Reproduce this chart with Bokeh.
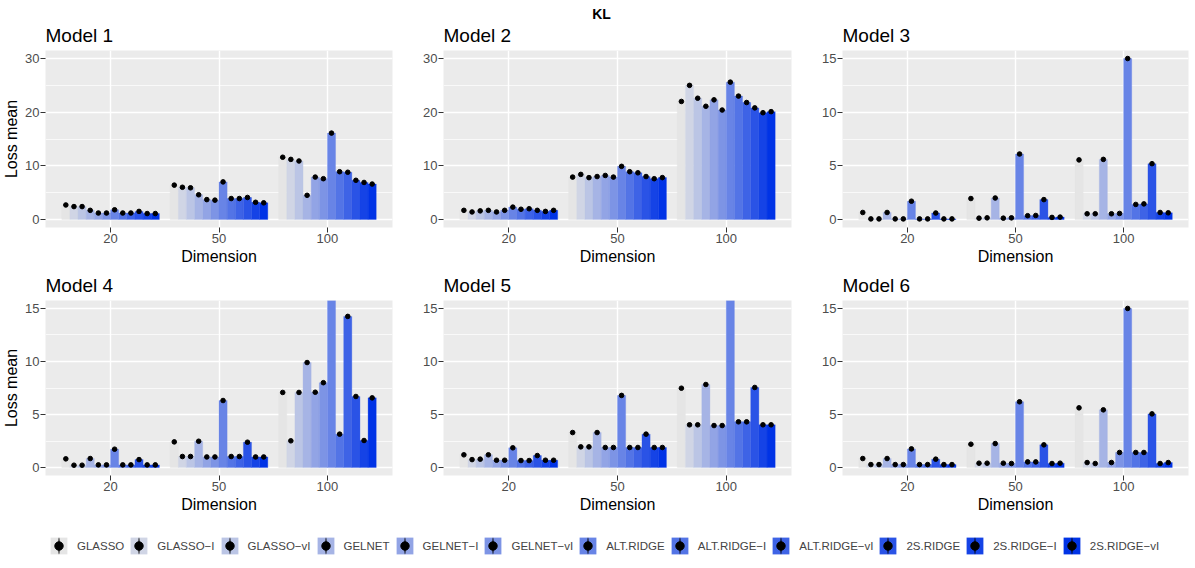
import numpy as np
from bokeh.plotting import figure
from bokeh.models import (FactorRange, Range1d, SingleIntervalTicker, ColumnDataSource,
                          Label, Legend, LegendItem)
from bokeh.transform import dodge
from bokeh.layouts import column, row
from bokeh.embed import file_html
from bokeh.resources import INLINE

# ---------------- data ----------------
methods = ["GLASSO", "GLASSO\u2212I", "GLASSO\u2212vI", "GELNET", "GELNET\u2212I", "GELNET\u2212vI",
           "ALT.RIDGE", "ALT.RIDGE\u2212I", "ALT.RIDGE\u2212vI", "2S.RIDGE", "2S.RIDGE\u2212I", "2S.RIDGE\u2212vI"]
dims = ["20", "50", "100"]
model_titles = ["Model 1", "Model 2", "Model 3", "Model 4", "Model 5", "Model 6"]

m1_20 = [2.7, 2.4, 2.4, 1.7, 1.2, 1.2, 1.8, 1.2, 1.2, 1.5, 1.1, 1.1]
m1_50 = [6.4, 6.0, 5.9, 4.6, 3.7, 3.6, 7.0, 3.9, 3.9, 4.1, 3.2, 3.1]
m1_100 = [11.6, 11.2, 10.9, 4.5, 7.9, 7.6, 16.1, 8.9, 8.8, 7.3, 6.9, 6.6]

m2_20 = [1.7, 1.4, 1.6, 1.7, 1.4, 1.7, 2.3, 1.9, 2.0, 1.7, 1.5, 1.7]
m2_50 = [7.9, 8.4, 7.8, 8.0, 8.2, 7.9, 9.9, 8.9, 8.7, 8.0, 7.6, 7.8]
m2_100 = [22.0, 25.0, 22.6, 21.1, 22.3, 20.4, 25.6, 23.0, 21.8, 20.8, 19.9, 20.1]

m3_20 = [0.65, 0.05, 0.05, 0.65, 0.05, 0.05, 1.7, 0.05, 0.05, 0.6, 0.05, 0.05]
m3_50 = [1.95, 0.12, 0.15, 2.0, 0.12, 0.15, 6.1, 0.35, 0.37, 1.85, 0.19, 0.22]
m3_100 = [5.55, 0.53, 0.53, 5.6, 0.53, 0.56, 15.0, 1.4, 1.45, 5.2, 0.65, 0.62]

m4_20 = [0.82, 0.22, 0.22, 0.85, 0.25, 0.25, 1.73, 0.25, 0.25, 0.75, 0.25, 0.25]
m4_50 = [2.42, 1.04, 1.04, 2.48, 1.0, 1.0, 6.32, 1.04, 1.04, 2.39, 1.0, 1.0]
m4_100 = [7.08, 2.52, 7.08, 9.9, 7.1, 8.0, 18.0, 3.15, 14.25, 6.7, 2.55, 6.57]

m5_20 = [1.2, 0.75, 0.79, 1.2, 0.69, 0.69, 1.86, 0.66, 0.66, 1.13, 0.69, 0.69]
m5_50 = [3.3, 1.95, 1.95, 3.3, 1.89, 1.89, 6.8, 1.89, 1.89, 3.15, 1.89, 1.89]
m5_100 = [7.48, 4.03, 4.03, 7.83, 3.96, 3.96, 18.0, 4.31, 4.31, 7.55, 4.03, 4.03]

m6_20 = [0.85, 0.28, 0.28, 0.85, 0.28, 0.28, 1.76, 0.28, 0.28, 0.79, 0.28, 0.28]
m6_50 = [2.2, 0.41, 0.41, 2.26, 0.41, 0.38, 6.2, 0.53, 0.53, 2.14, 0.38, 0.41]
m6_100 = [5.63, 0.47, 0.38, 5.44, 0.47, 1.42, 15.0, 1.42, 1.42, 5.06, 0.38, 0.47]

y_limits = [30, 30, 15, 15, 15, 15]
y_intervals = [10, 10, 5, 5, 5, 5]

# ---------------- style ----------------
palette = ["#E5E5E5", "#D0D5E5", "#BBC5E5", "#A6B4E5", "#92A4E5", "#7D94E5",
           "#6884E6", "#5374E6", "#3E63E6", "#2A53E6", "#1543E6", "#0033E6"]
FONT = "Liberation Sans"
PANEL_BG = "#EBEBEB"

model_values = [
    (m1_20, m1_50, m1_100), (m2_20, m2_50, m2_100), (m3_20, m3_50, m3_100),
    (m4_20, m4_50, m4_100), (m5_20, m5_50, m5_100), (m6_20, m6_50, m6_100),
]

n = len(methods)
bar_w = 0.9 / n
TOP = 28


def make_panel(k, width, frame_h, left, right, bottom, ylabel):
    vals = model_values[k]
    ymax = y_limits[k]
    p = figure(width=width, height=TOP + frame_h + bottom,
               x_range=FactorRange(factors=dims, range_padding=0.1, range_padding_units="absolute"),
               y_range=Range1d(-ymax * 0.05, ymax * 1.05),
               toolbar_location=None, output_backend="svg",
               min_border_left=left, min_border_right=right,
               min_border_top=TOP, min_border_bottom=bottom)
    for j, m in enumerate(methods):
        src = ColumnDataSource(dict(dim=dims, value=[vals[0][j], vals[1][j], vals[2][j]]))
        xx = dodge("dim", -0.45 + bar_w * (j + 0.5), range=p.x_range)
        p.vbar(x=xx, top="value", bottom=0, width=bar_w, source=src,
               fill_color=palette[j], line_color=palette[j], line_width=0.3)
        p.scatter(x=xx, y="value", source=src, size=4.6, color="black")

    p.background_fill_color = PANEL_BG
    p.border_fill_color = "white"
    p.outline_line_color = None
    p.xgrid.grid_line_color = "white"
    p.xgrid.grid_line_width = 1.4
    p.ygrid.grid_line_color = "white"
    p.ygrid.grid_line_width = 1.4
    p.ygrid.minor_grid_line_color = "white"
    p.ygrid.minor_grid_line_width = 0.7
    p.yaxis.ticker = SingleIntervalTicker(interval=y_intervals[k], num_minor_ticks=2)

    for ax in (p.xaxis[0], p.yaxis[0]):
        ax.axis_line_color = None
        ax.major_tick_line_color = "#333333"
        ax.major_tick_out = 5
        ax.major_tick_in = 0
        ax.minor_tick_line_color = None
        ax.major_label_text_color = "#4D4D4D"
        ax.major_label_text_font = FONT
        ax.major_label_text_font_size = "13px"
        ax.major_label_standoff = 1
        ax.axis_label_text_font = FONT
        ax.axis_label_text_font_size = "16px"
        ax.axis_label_text_font_style = "normal"
        ax.axis_label_text_color = "black"
        ax.axis_label_standoff = 2
    p.xaxis.axis_label = "Dimension"
    if ylabel:
        p.yaxis.axis_label = "Loss mean"

    p.title.text = model_titles[k]
    p.title.text_font = FONT
    p.title.text_font_size = "19px"
    p.title.text_font_style = "normal"
    p.title.text_color = "black"
    p.title.align = "left"
    p.title.vertical_align = "top"
    p.title.standoff = 5
    return p


p1 = make_panel(0, 399, 177, 45, 7, 45, True)
p2 = make_panel(1, 400, 177, 44, 8, 45, False)
p3 = make_panel(2, 396, 177, 43, 7, 45, False)
p4 = make_panel(3, 399, 175, 45, 7, 40, True)
p5 = make_panel(4, 400, 175, 44, 8, 40, False)
p6 = make_panel(5, 396, 175, 43, 7, 40, False)

# ---------------- header ----------------
header = figure(width=1195, height=22, x_range=(0, 1), y_range=(0, 1),
                toolbar_location=None, output_backend="svg", min_border=0)
header.axis.visible = False
header.grid.visible = False
header.outline_line_color = None
header.add_layout(Label(x=0.503, y=0.4, text="KL", text_align="center", text_baseline="middle",
                        text_font=FONT, text_font_size="14px", text_font_style="bold",
                        text_color="black"))

# ---------------- legend ----------------
lf = figure(width=1195, height=45, x_range=(0, 1), y_range=(0, 1),
            toolbar_location=None, output_backend="svg", min_border=0)
lf.axis.visible = False
lf.grid.visible = False
lf.outline_line_color = None
items = []
for j, m in enumerate(methods):
    es = ColumnDataSource(dict(x=np.array([np.nan]), y=np.array([np.nan])))
    r1 = lf.vbar(x="x", top="y", width=0.1, source=es, fill_color=palette[j], line_color=None)
    r2 = lf.ellipse(x="x", y="y", width=1.4, height=16, width_units="screen", height_units="screen",
                    source=es, fill_color="black", line_color=None)
    r3 = lf.scatter(x="x", y="y", source=es, size=6, color="black")
    items.append(LegendItem(label=m, renderers=[r1, r2, r3]))
leg = Legend(items=items, orientation="horizontal", location=(48, 4),
             glyph_width=21, glyph_height=21, label_standoff=8, spacing=4,
             padding=0, margin=0, border_line_color=None, background_fill_alpha=0,
             label_text_font=FONT, label_text_font_size="11.5px", label_height=21)
lf.add_layout(leg)

layout = column(header, row(p1, p2, p3), row(p4, p5, p6), lf)
open("out.html", "w").write(file_html(layout, INLINE))
